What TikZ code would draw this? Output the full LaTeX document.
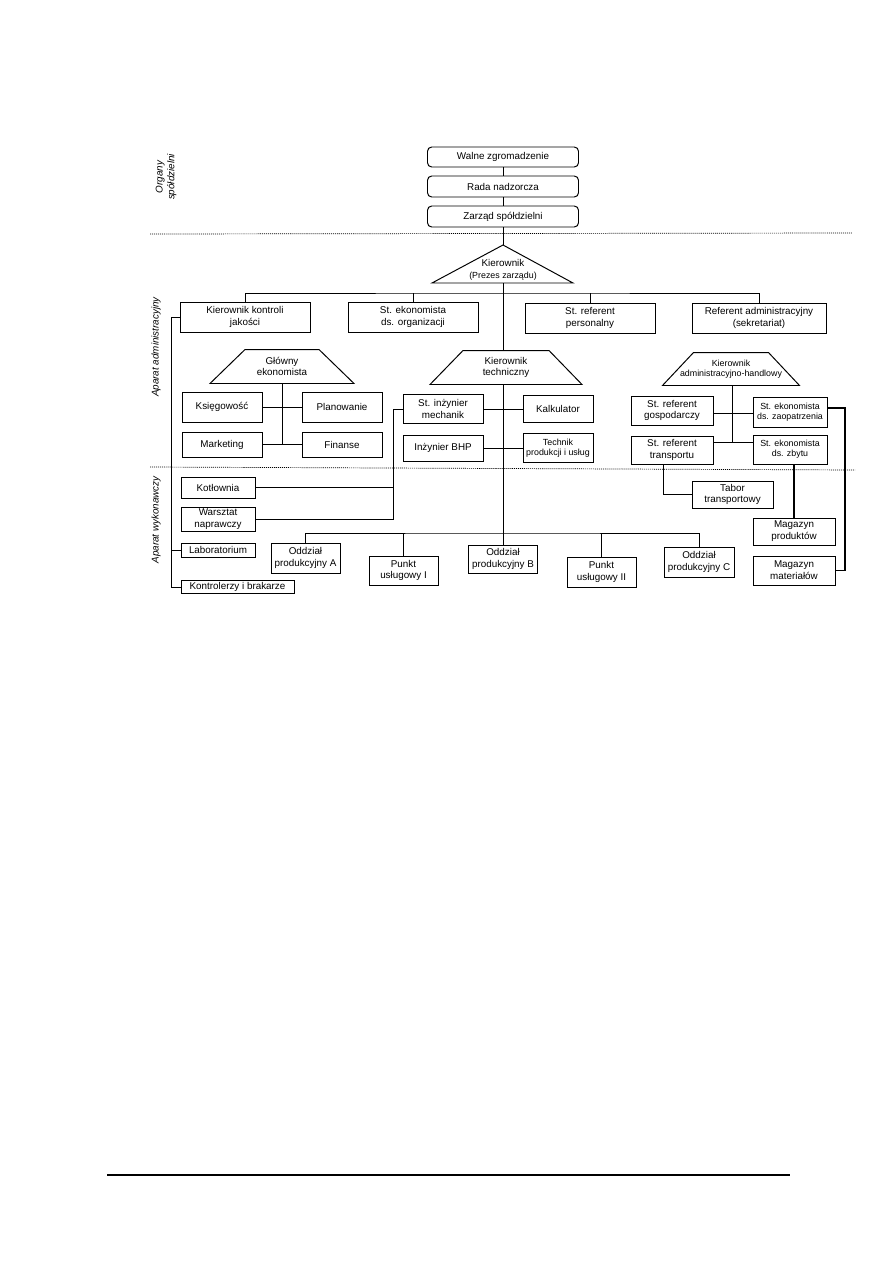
\documentclass[tikz,border=0pt]{standalone}
\usepackage{fontspec}
\setmainfont{Liberation Sans}
\newcommand{\pxu}{0.025cm}
\newcommand{\smallfont}{\fontsize{6.3}{7.4}\selectfont}
% trapezoid round a node: name, slant of the sides (px)
\newcommand{\trapez}[2]{%
  \draw (#1.south west) -- ([xshift=#2*\pxu]#1.north west)
    -- ([xshift=-#2*\pxu]#1.north east) -- (#1.south east) -- cycle;}

\begin{document}
\begin{tikzpicture}[
  x=0.025cm, y=-0.025cm,
  line width=0.7pt,
  every node/.append style={font=\fontsize{7}{8.4}\selectfont},
  box/.style={draw,align=center,inner sep=0.5pt},
  sz/.style 2 args={minimum width=#1*\pxu,minimum height=#2*\pxu},
  organ/.style={box,rounded corners=3pt},
  trapbox/.style={align=center,inner sep=0pt},
  txt/.style={align=center,inner sep=0pt},
  tight/.style={font=\smallfont},
  side/.style={align=center,rotate=90,inner sep=0pt,font=\fontsize{7}{8.4}\selectfont\itshape},
  sep/.style={line width=0.5pt,dash pattern=on 0.7pt off 0.7pt},
  heavy/.style={line width=1.3pt}
]
  \useasboundingbox (0,0) rectangle (893,1263);

  % organy
  \node[organ,sz={151}{20}] (walne) at (503,157) {Walne zgromadzenie};
  \node[organ,sz={151}{21}] (rada) at (503,186.5) {Rada nadzorcza};
  \node[organ,sz={151}{21}] (zarzad) at (503,216.5) {Zarząd spółdzielni};
  \draw (walne) -- (rada);
  \draw (rada) -- (zarzad);

  \coordinate (kierTop) at (503,245);
  \coordinate (kierL) at (432,283);
  \coordinate (kierR) at (573,283);
  \coordinate (kierBase) at (503,283);
  \draw (kierL) -- (kierTop) -- (kierR) -- cycle;
  \node[txt] (kier) at (503,270) {Kierownik\\{\smallfont(Prezes zarządu)}};
  \draw (zarzad) -- (kierTop);

  % aparat administracyjny
  \coordinate (bus1) at (503,293);
  \node[box,sz={130}{30}] (kkj) at (245,317) {Kierownik kontroli\\jakości};
  \node[box,sz={130}{30}] (seo) at (413,317) {St. ekonomista\\ds. organizacji};
  \node[box,sz={130}{30}] (srp) at (590,318) {St. referent\\personalny};
  \node[box,sz={134}{30}] (rad) at (759,318) {Referent administracyjny\\(sekretariat)};
  \draw (kkj.north) |- (bus1) -| (rad.north);
  \draw (seo.north) -- (seo.north |- bus1);
  \draw (srp.north) -- (srp.north |- bus1);

  \node[trapbox,sz={143}{33}] (glowny) at (282,366.5) {Główny\\ekonomista};
  \trapez{glowny}{35}
  \node[box,sz={80}{30}] (ksieg) at (222,407) {Księgowość};
  \node[box,sz={80}{30}] (plan) at (342,407) {Planowanie};
  \node[box,sz={80}{25}] (mark) at (222,444.5) {Marketing};
  \node[box,sz={80}{25}] (fin) at (342,444.5) {Finanse};
  \draw (glowny.south) -- (glowny.south |- mark.east);
  \draw (ksieg) -- (plan);
  \draw (mark) -- (fin);

  \node[trapbox,sz={151}{33}] (tech) at (506,367.5) {Kierownik\\techniczny};
  \trapez{tech}{33}
  \node[box,sz={80}{29}] (inzm) at (443,409) {St. inżynier\\mechanik};
  \node[box,sz={80}{26}] (bhp) at (443,448) {Inżynier BHP};
  \node[box,sz={70}{27}] (kalk) at (558,409) {Kalkulator};
  \node[box,tight,sz={70}{29}] (techn) at (558,448) {Technik\\produkcji i usług};
  \draw (kierBase) -- (tech.north -| kierBase);
  \draw (inzm) -- (kalk);
  \draw (bhp) -- (techn);

  \node[trapbox,tight,sz={136}{32}] (adm) at (731,369) {Kierownik\\administracyjno-handlowy};
  \trapez{adm}{31}
  \node[box,sz={82}{29}] (srg) at (672,410.5) {St. referent\\gospodarczy};
  \node[box,sz={82}{28}] (srt) at (672,450) {St. referent\\transportu};
  \node[box,tight,sz={74}{30}] (sez) at (790,412) {St. ekonomista\\ds. zaopatrzenia};
  \node[box,tight,sz={74}{29}] (sezb) at (790,449.5) {St. ekonomista\\ds. zbytu};
  \coordinate (a1) at (732,413);
  \coordinate (a2) at (732,442);
  \draw (adm.south -| a1) -- (a2);
  \draw (srg.east |- a1) -- (sez.west |- a1);
  \draw (srt.east |- a2) -- (sezb.west |- a2);

  % aparat wykonawczy
  \node[box,sz={74}{21}] (kotl) at (218,487.5) {Kotłownia};
  \node[box,sz={74}{24}] (warsz) at (218,519) {Warsztat\\naprawczy};
  \node[box,sz={74}{14}] (lab) at (218,550) {Laboratorium};
  \node[box,sz={113}{13}] (kontr) at (237.5,587) {Kontrolerzy i brakarze};
  \coordinate (m1) at (393,409);
  \draw (inzm.west) -| (m1 |- warsz.east) -- (warsz.east);
  \draw (kotl.east) -- (kotl.east -| m1);
  \coordinate (l1) at (171,317);
  \draw (kkj.west) -| (l1 |- kontr.west) -- (kontr.west);
  \draw (lab.west) -- (lab.west -| l1);

  \coordinate (bus2) at (503,533);
  \node[box,sz={69}{30}] (oddA) at (305.5,558) {Oddział\\produkcyjny A};
  \node[box,sz={69}{29}] (punktI) at (403.5,570.5) {Punkt\\usługowy I};
  \node[box,sz={69}{28}] (oddB) at (503,559) {Oddział\\produkcyjny B};
  \node[box,sz={69}{30}] (punktII) at (601.5,572) {Punkt\\usługowy II};
  \node[box,sz={70}{30}] (oddC) at (699,562) {Oddział\\produkcyjny C};
  \draw (tech.south -| kierBase) -- (bus2);
  \draw (oddA.north) |- (bus2) -| (oddC.north);
  \draw (punktI.north) -- (punktI.north |- bus2);
  \draw (bus2) -- (oddB.north);
  \draw (punktII.north) -- (punktII.north |- bus2);

  \node[box,sz={81}{27}] (tabor) at (732.5,494.5) {Tabor\\transportowy};
  \node[box,sz={82}{27}] (magp) at (794,531.5) {Magazyn\\produktów};
  \node[box,sz={82}{29}] (magm) at (794,570.5) {Magazyn\\materiałów};
  \coordinate (t1) at (663,494.5);
  \draw (srt.south -| t1) |- (tabor.west);
  \draw[heavy] (magp.north |- sezb.south) -- (magp.north);
  \coordinate (r1) at (845,408);
  \draw[heavy] (sez.east |- r1) -- (r1) -- (r1 |- magm.east) -- (magm.east);

  % granice i opisy
  \draw[sep] (150,234) -- (852,233);
  \draw[sep] (150,467) -- (855,470);
  \node[side] (organy) at (166,177) {Organy\\spółdzielni};
  \node[side] (aparatA) at (156,347) {Aparat administracyjny};
  \node[side] (aparatW) at (156,520) {Aparat wykonawczy};

  \draw[line width=1.2pt] (107,1175) -- (790,1175);
\end{tikzpicture}
\end{document}
